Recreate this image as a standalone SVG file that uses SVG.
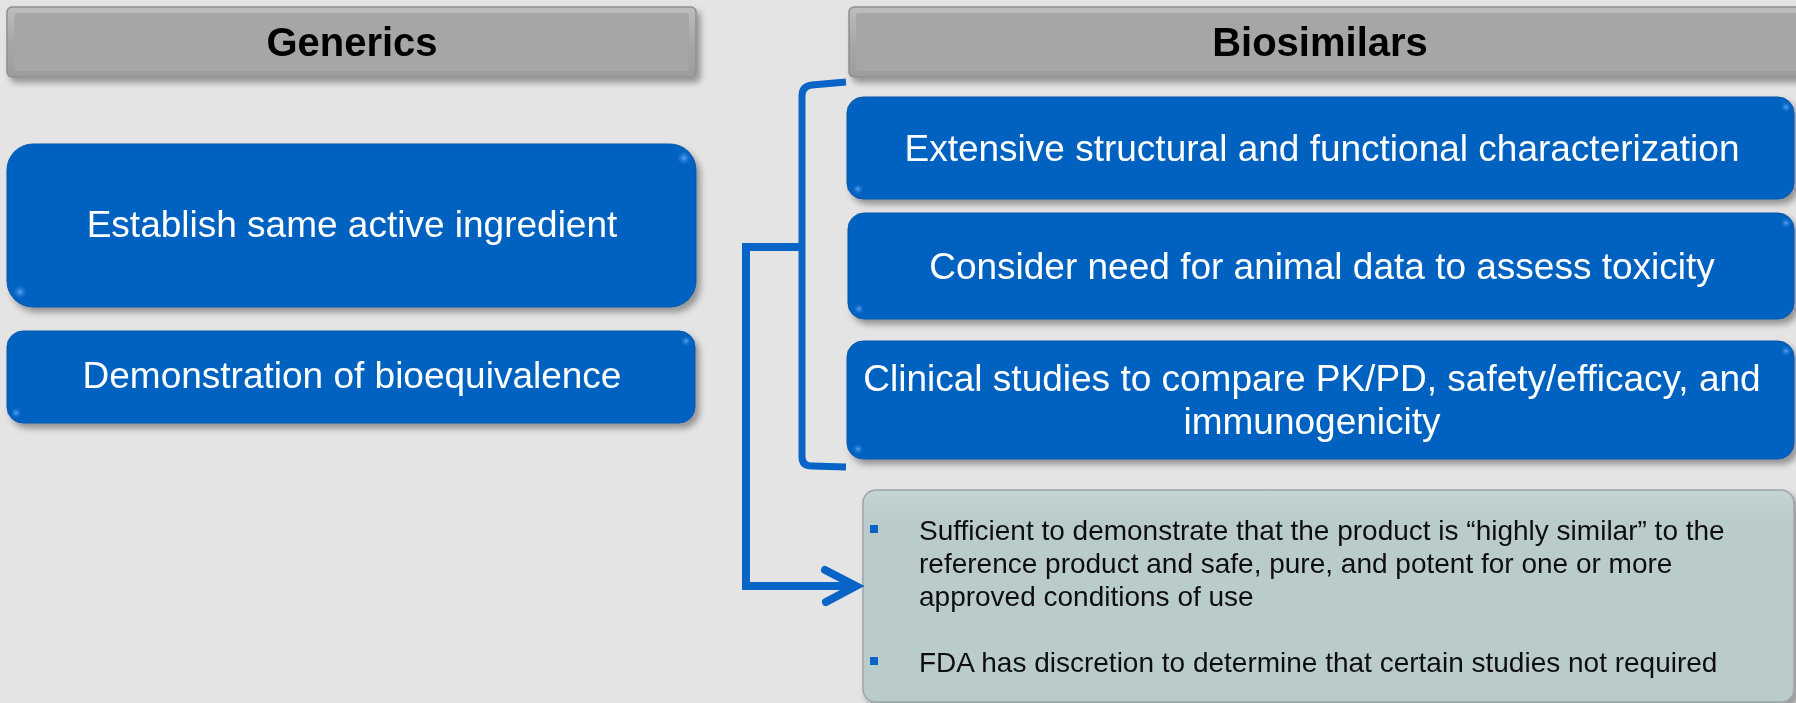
<svg xmlns="http://www.w3.org/2000/svg" width="1796" height="703" viewBox="0 0 1796 703">
<style>
.hdr{fill:url(#gHdr);stroke:#8f8f8f;stroke-width:1.5}
.hdrIn{fill:#a6a6a6}
.blue{fill:#0262c0;stroke:#0a57a8;stroke-width:1}
.gray{fill:url(#gGray);stroke:#9aa6a6;stroke-width:1.5}
.glint{fill:url(#gGlint)}
.th{font-family:"Liberation Sans",Arial,sans-serif;font-weight:bold;font-size:40px;fill:#000;text-anchor:middle}
.tb{font-family:"Liberation Sans",Arial,sans-serif;font-size:37px;fill:#fff;text-anchor:middle}
.tg{font-family:"Liberation Sans",Arial,sans-serif;font-size:28px;fill:#111}
.conn{fill:none;stroke:#0864c6;stroke-width:7}
.arr{fill:none;stroke:#0864c6;stroke-width:8}
</style>
<defs>
<filter id="sh" x="-5%" y="-20%" width="110%" height="150%">
<feDropShadow dx="4" dy="5" stdDeviation="3" flood-color="#000" flood-opacity="0.35"/>
</filter>
<linearGradient id="gHdr" x1="0" y1="0" x2="0" y2="1">
<stop offset="0" stop-color="#bdbdbd"/>
<stop offset="0.5" stop-color="#a8a8a8"/>
<stop offset="1" stop-color="#9c9c9c"/>
</linearGradient>
<linearGradient id="gGray" x1="0" y1="0" x2="0" y2="1">
<stop offset="0" stop-color="#c4d4d4"/>
<stop offset="0.15" stop-color="#b9cbcb"/>
<stop offset="1" stop-color="#b9cbcb"/>
</linearGradient>
<radialGradient id="gGlint">
<stop offset="0" stop-color="#5aa6f5"/>
<stop offset="1" stop-color="#0262c0" stop-opacity="0"/>
</radialGradient>
</defs>
<rect width="1796" height="703" fill="#e4e4e4"/>

<g id="generics-header" filter="url(#sh)">
<rect class="hdr" x="7" y="7" width="689" height="70" rx="5"/>
<rect class="hdrIn" x="14" y="13" width="675" height="58" rx="3"/>
<text class="th" x="352" y="56">Generics</text>
</g>

<g id="biosimilars-header" filter="url(#sh)">
<rect class="hdr" x="849" y="7" width="960" height="70" rx="5"/>
<rect class="hdrIn" x="856" y="13" width="946" height="58" rx="3"/>
<text class="th" x="1320" y="56">Biosimilars</text>
</g>

<g id="establish" filter="url(#sh)">
<rect class="blue" x="7" y="144" width="689" height="163" rx="26"/>
<circle class="glint" cx="20" cy="292" r="8"/>
<circle class="glint" cx="684" cy="158" r="8"/>
<text class="tb" x="352" y="237">Establish same active ingredient</text>
</g>

<g id="bioequivalence" filter="url(#sh)">
<rect class="blue" x="7" y="331" width="688" height="92" rx="16"/>
<circle class="glint" cx="16" cy="413" r="6"/>
<circle class="glint" cx="686" cy="341" r="6"/>
<text class="tb" x="352" y="388">Demonstration of bioequivalence</text>
</g>

<g id="characterization" filter="url(#sh)">
<rect class="blue" x="847" y="97" width="947" height="102" rx="16"/>
<circle class="glint" cx="858" cy="189" r="6"/>
<circle class="glint" cx="1786" cy="107" r="6"/>
<text class="tb" x="1322" y="161">Extensive structural and functional characterization</text>
</g>

<g id="animal-data" filter="url(#sh)">
<rect class="blue" x="848" y="213" width="946" height="106" rx="16"/>
<circle class="glint" cx="859" cy="309" r="6"/>
<circle class="glint" cx="1786" cy="223" r="6"/>
<text class="tb" x="1322" y="279">Consider need for animal data to assess toxicity</text>
</g>

<g id="clinical" filter="url(#sh)">
<rect class="blue" x="847" y="341" width="947" height="118" rx="16"/>
<circle class="glint" cx="858" cy="449" r="6"/>
<circle class="glint" cx="1786" cy="351" r="6"/>
<text class="tb" x="1312" y="391">Clinical studies to compare PK/PD, safety/efficacy, and</text>
<text class="tb" x="1312" y="434">immunogenicity</text>
</g>

<g id="summary" filter="url(#sh)">
<rect class="gray" x="863" y="490" width="931" height="212" rx="13"/>
<rect x="870" y="525" width="8" height="8" fill="#0a64c4"/>
<text class="tg" x="919" y="540">Sufficient to demonstrate that the product is “highly similar” to the</text>
<text class="tg" x="919" y="573">reference product and safe, pure, and potent for one or more</text>
<text class="tg" x="919" y="606">approved conditions of use</text>
<rect x="870" y="657" width="8" height="8" fill="#0a64c4"/>
<text class="tg" x="919" y="672">FDA has discretion to determine that certain studies not required</text>
</g>

<g id="connectors">
<path class="conn" d="M846,82 L812,85 Q802,86 802,96 L802,457 Q802,466 812,466 L846,467"/>
<path class="arr" d="M802,247 L746,247 L746,586 L852,586"/>
<path class="arr" d="M825,570 L856,586 L826,602" stroke-linecap="round" stroke-linejoin="miter"/>
</g>
</svg>
